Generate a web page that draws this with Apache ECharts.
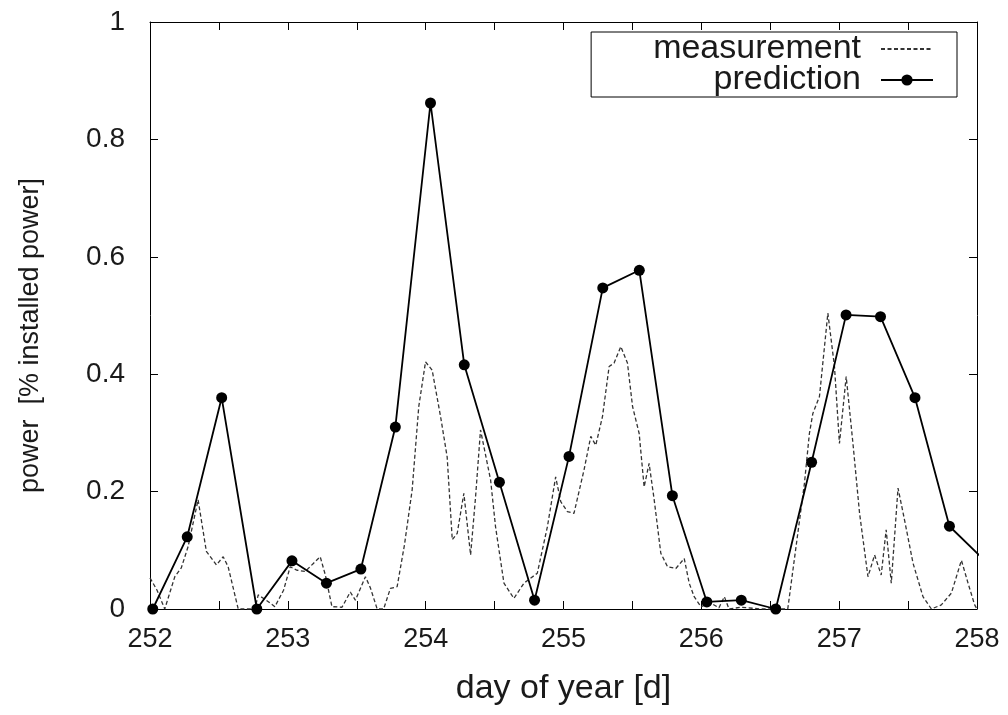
<!DOCTYPE html>
<html>
<head>
<meta charset="utf-8">
<script src="https://cdn.jsdelivr.net/npm/echarts@6/dist/echarts.min.js"></script>
<style>
html,body{margin:0;padding:0;background:#fff;}
#chart{width:1008px;height:715px;}
</style>
</head>
<body>
<div id="chart"></div>
<script>
// measurement (day of year, power)
var measurementDays = [252.000,252.051,252.107,252.180,252.227,252.276,252.349,252.409,252.482,252.531,252.567,252.640,252.761,252.785,252.843,252.906,252.969,253.017,253.066,253.126,253.187,253.235,253.272,253.320,253.393,253.453,253.490,253.563,253.599,253.648,253.695,253.744,253.793,253.846,253.902,253.950,253.999,254.047,254.108,254.156,254.193,254.229,254.277,254.326,254.362,254.398,254.471,254.507,254.568,254.640,254.713,254.810,254.883,254.943,254.980,255.028,255.076,255.149,255.198,255.234,255.283,255.331,255.367,255.416,255.464,255.501,255.549,255.585,255.621,255.658,255.706,255.755,255.815,255.876,255.912,255.948,255.997,256.070,256.128,256.167,256.201,256.288,256.433,256.627,256.700,256.748,256.784,256.809,256.857,256.918,256.966,257.002,257.051,257.100,257.148,257.209,257.257,257.305,257.341,257.378,257.427,257.474,257.536,257.608,257.669,257.741,257.814,257.887,257.935,257.983,258.000];
var measurementValues = [0.053,0.032,0.000,0.055,0.070,0.106,0.186,0.098,0.075,0.089,0.072,0.000,0.000,0.024,0.015,0.004,0.032,0.072,0.066,0.064,0.078,0.089,0.058,0.004,0.003,0.029,0.015,0.055,0.036,0.000,0.000,0.035,0.038,0.109,0.203,0.345,0.421,0.407,0.328,0.259,0.118,0.129,0.197,0.092,0.191,0.305,0.220,0.140,0.044,0.018,0.044,0.061,0.140,0.225,0.183,0.166,0.163,0.237,0.294,0.279,0.328,0.413,0.419,0.447,0.419,0.345,0.299,0.208,0.248,0.186,0.095,0.072,0.069,0.086,0.044,0.021,0.004,0.010,0.002,0.021,0.000,0.003,0.000,0.000,0.129,0.214,0.299,0.333,0.362,0.504,0.413,0.282,0.396,0.282,0.163,0.055,0.092,0.058,0.135,0.044,0.206,0.152,0.078,0.021,0.000,0.007,0.027,0.083,0.044,0.007,0.000];
// prediction (6-hourly)
var predictionDays = [252.02,252.27,252.52,252.775,253.03,253.28,253.53,253.78,254.035,254.28,254.535,254.79,255.04,255.285,255.55,255.79,256.04,256.29,256.54,256.8,257.05,257.3,257.55,257.8,258.05];
var predictionValues = [0.000,0.123,0.360,0.000,0.082,0.044,0.068,0.310,0.862,0.416,0.216,0.015,0.260,0.547,0.577,0.193,0.012,0.015,0.000,0.250,0.501,0.498,0.360,0.141,0.084];
var xTickLabels = ['252','253','254','255','256','257','258'];
var yTickLabels = ['0','0.2','0.4','0.6','0.8','1'];
var seriesNames = ['measurement','prediction'];

function pairs(xs, ys){ return xs.map(function(x,i){ return [x, ys[i]]; }); }

var FONT = '"Liberation Sans", Arial, sans-serif';
var TXT = '#1a1a1a';

var chart = echarts.init(document.getElementById('chart'), null, {renderer:'canvas'});
var baseX = {
  type:'value', min:252, max:258, interval:0.5,
  axisLine:{show:true, onZero:false, lineStyle:{color:'#000', width:1}},
  axisTick:{show:true, inside:true, length:8, lineStyle:{color:'#000'}},
  splitLine:{show:false}
};
var baseY = {
  type:'value', min:0, max:1, interval:0.2,
  axisLine:{show:true, onZero:false, lineStyle:{color:'#000', width:1}},
  axisTick:{show:true, inside:true, length:8, lineStyle:{color:'#000'}},
  splitLine:{show:false}
};
var option = {
  animation:false,
  backgroundColor:'#fff',
  grid:{left:150, right:31, top:22, bottom:106, containLabel:false},
  legend:{
    show:true, orient:'vertical', right:51, top:32,
    data:[{name:seriesNames[0], itemStyle:{opacity:0, color:'rgba(0,0,0,0)', borderWidth:0}}, {name:seriesNames[1]}],
    align:'right',
    backgroundColor:'#fff', borderColor:'#000', borderWidth:1, borderRadius:0,
    padding:[0,23,0,62], itemGap:-3, itemWidth:52, itemHeight:14,
    formatter:function(n){ return '{t|'+n+'}'; },
    textStyle:{fontFamily:FONT, fontSize:34, color:TXT,
      rich:{t:{fontFamily:FONT, fontSize:34, lineHeight:30, color:TXT, align:'right', padding:[0,15,0,0]}}}
  },
  xAxis:[
    Object.assign({}, baseX, {
      position:'bottom',
      name:'day of year [d]', nameLocation:'middle', nameGap:63,
      nameTextStyle:{fontFamily:FONT, fontSize:34, color:TXT},
      axisLabel:{show:true, margin:17, fontFamily:FONT, fontSize:27, color:TXT,
        formatter:function(v){ var i = xTickLabels.indexOf(String(v)); return i>=0 ? xTickLabels[i] : ''; }}
    }),
    Object.assign({}, baseX, {position:'top', axisLabel:{show:false}})
  ],
  yAxis:[
    Object.assign({}, baseY, {
      position:'left',
      name:'power  [% installed power]', nameLocation:'middle', nameGap:106, nameRotate:90,
      nameTextStyle:{fontFamily:FONT, fontSize:27, color:TXT, padding:[0,40,0,0]},
      axisLabel:{show:true, margin:25, fontFamily:FONT, fontSize:28, color:TXT,
        formatter:function(v){ var i = Math.round(v/0.2); return yTickLabels[i]; }}
    }),
    Object.assign({}, baseY, {position:'right', axisLabel:{show:false}})
  ],
  series:[
    {
      name:seriesNames[0], type:'line', xAxisIndex:0, yAxisIndex:0,
      data:pairs(measurementDays, measurementValues),
      symbol:'none', showSymbol:false, clip:true,
      lineStyle:{color:'#333', width:1.3, type:[4,2.5]},
      itemStyle:{color:'#333'}, z:2
    },
    {
      name:seriesNames[1], type:'line', xAxisIndex:0, yAxisIndex:0,
      data:pairs(predictionDays, predictionValues),
      symbol:'circle', symbolSize:11, showSymbol:true, clip:true,
      lineStyle:{color:'#000', width:1.8},
      itemStyle:{color:'#000'}, z:3
    }
  ]
};
chart.setOption(option);
</script>
</body>
</html>
